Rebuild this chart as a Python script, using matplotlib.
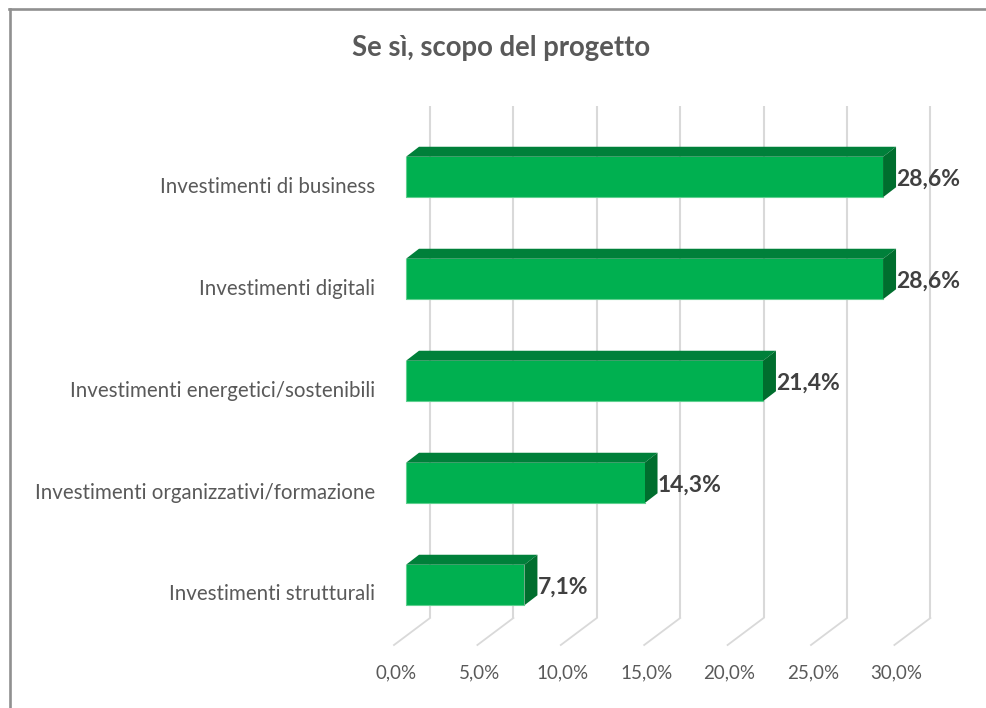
#Horizontal 3D style bar chart, the depth is drawn by hand with polygons
import matplotlib
matplotlib.use("Agg")
import matplotlib.pyplot as plt
from matplotlib.lines import Line2D
from matplotlib.patches import Polygon

plt.rcParams['font.family'] = ['Lato', 'DejaVu Sans']

categories = ['Investimenti di business', 'Investimenti digitali',
              'Investimenti energetici/sostenibili',
              'Investimenti organizzativi/formazione', 'Investimenti strutturali']
values = [28.6, 28.6, 21.4, 14.3, 7.1]
value_labels = ['28,6%', '28,6%', '21,4%', '14,3%', '7,1%']
ticks = [0, 5, 10, 15, 20, 25, 30]
tick_labels = ['0,0%', '5,0%', '10,0%', '15,0%', '20,0%', '25,0%', '30,0%']

W, H = 987, 708
fig = plt.figure(figsize=(W / 100, H / 100), dpi=100, facecolor='white')

#axes placed so that 0 is at pixel 406 and the categories are 102 px apart
left, top, bottom = 406, 126, 636
px_per_unit = 16.68
width = 30 * px_per_unit
ax = fig.add_axes([left / W, 1 - bottom / H, width / W, (bottom - top) / H])
ax.set_xlim(0, 30)
ax.set_ylim(4.5, -0.5)
ax.axis('off')

#pixel offsets turned into data units
def dx(px):
    return px / px_per_unit

def dy(px):
    return px / 102

#gridlines on the back wall and their floor part
grid_color = '#d9d9d9'
for t in ticks:
    xb = t + dx(24)
    ax.plot([xb, xb], [dy(106 - 177), dy(618 - 177)], color=grid_color, lw=1.5,
            clip_on=False, zorder=1, solid_capstyle='butt')
    ax.plot([xb, t - dx(12)], [dy(618 - 177), dy(645 - 177)], color=grid_color, lw=1.3,
            clip_on=False, zorder=1)

#bars
bar_h = 40.5 / 102
depth_x, depth_y = dx(13), dy(10)
for i, v in enumerate(values):
    y0, y1 = i - bar_h / 2, i + bar_h / 2
    ax.add_patch(Polygon([(0, y0), (depth_x, y0 - depth_y), (v + depth_x, y0 - depth_y), (v, y0)],
                         facecolor='#00803a', edgecolor='none', zorder=2, clip_on=False))
    ax.add_patch(Polygon([(v, y0), (v + depth_x, y0 - depth_y), (v + depth_x, y1 - depth_y), (v, y1)],
                         facecolor='#006e2e', edgecolor='none', zorder=2, clip_on=False))
    ax.barh(i, v, height=bar_h, color='#00b050', edgecolor='none', zorder=3, clip_on=False)
    #thin light edge along the bottom and left of the front face
    ax.plot([0, 0, v], [y0, y1, y1], color='#5fd08f', lw=0.8, zorder=3, clip_on=False)
    ax.text(v + dx(13.5), i + dy(2.5), value_labels[i], ha='left', va='center', fontsize=16.5,
            fontweight='bold', color='#404040', zorder=4, clip_on=False)
    ax.text(dx(-31), i + dy(9.5), categories[i], ha='right', va='center', fontsize=14.8,
            color='#595959', clip_on=False)

#value axis labels under the floor
for t, lab in zip(ticks, tick_labels):
    ax.text(t - dx(10), dy(673 - 177), lab, ha='center', va='center', fontsize=13.5,
            color='#595959', clip_on=False)

fig.text(501 / W, 1 - 48 / H, 'Se sì, scopo del progetto', ha='center', va='center',
         fontsize=19.8, fontweight='bold', color='#595959')

#chart area border, only top and left are visible
fig.add_artist(Line2D([9.5 / W, 9.5 / W], [0, 1 - 9 / H], color='#909090', lw=1.9))
fig.add_artist(Line2D([8.8 / W, 1], [1 - 9 / H, 1 - 9 / H], color='#909090', lw=1.9))

fig.savefig('out.png', dpi=100)
